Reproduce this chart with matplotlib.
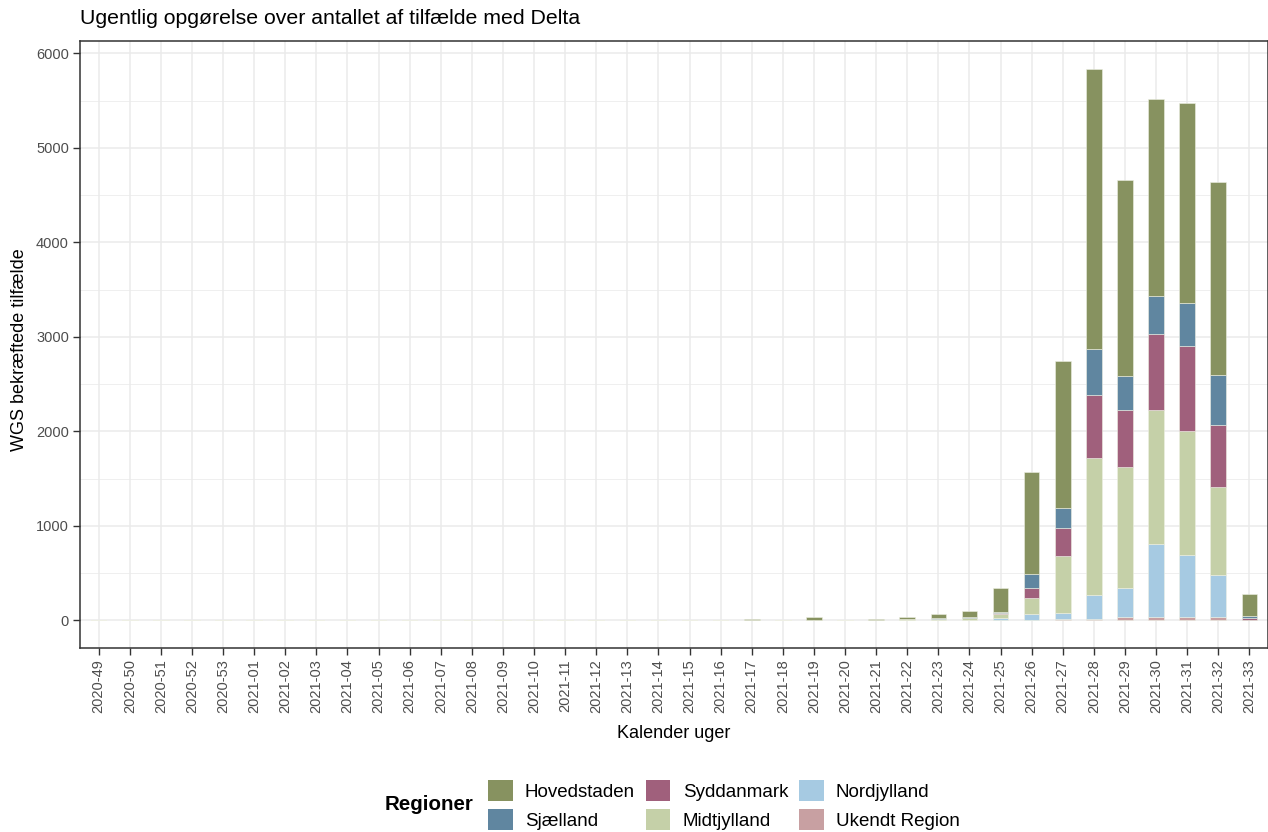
import numpy as np
import matplotlib
matplotlib.use("Agg")
import matplotlib.pyplot as plt
from matplotlib.patches import Patch
from matplotlib.ticker import MultipleLocator

plt.rcParams['font.family'] = ['Liberation Sans', 'DejaVu Sans']

weeks = ["2020-%02d" % w for w in range(49, 54)] + ["2021-%02d" % w for w in range(1, 34)]

# weeks 2020-49 .. 2021-16 have no cases, values below start at 2021-17
hovedstaden = [0] * 21 + [18, 0, 30, 0, 18, 20, 45, 60, 255, 1079, 1550, 2962, 2070, 2086, 2125, 2035, 232]
sjaelland = [0] * 21 + [0, 0, 0, 0, 0, 0, 6, 11, 10, 142, 219, 496, 366, 406, 456, 535, 22]
syddanmark = [0] * 21 + [0, 0, 0, 0, 0, 0, 3, 5, 20, 109, 294, 661, 597, 801, 892, 659, 20]
midtjylland = [0] * 21 + [0, 0, 5, 0, 2, 15, 8, 18, 40, 173, 598, 1451, 1282, 1416, 1310, 930, 3]
nordjylland = [0] * 21 + [0, 0, 0, 0, 0, 0, 5, 5, 20, 64, 66, 250, 311, 775, 662, 443, 3]
ukendt = [0] * 21 + [0, 0, 0, 0, 0, 0, 0, 0, 3, 2, 15, 18, 35, 35, 35, 35, 3]

regions = ["Hovedstaden", "Sjælland", "Syddanmark", "Midtjylland", "Nordjylland", "Ukendt Region"]
colors = ["#879260", "#6086A0", "#A0607C", "#C5D0A8", "#A6CAE2", "#C8A0A2"]
values = [hovedstaden, sjaelland, syddanmark, midtjylland, nordjylland, ukendt]

fig = plt.figure(figsize=(12.68, 8.32), dpi=100)
ax = fig.add_axes([80 / 1268, 184 / 832, 1188 / 1268, 607 / 832])

x = np.arange(len(weeks))
bottom = np.zeros(len(weeks))
# stack from bottom: Ukendt first, Hovedstaden on top
for name, col, vals in list(zip(regions, colors, values))[::-1]:
    v = np.array(vals, dtype=float)
    ax.bar(x, v, width=0.5, bottom=bottom, color=col, edgecolor='#EEF0E4', linewidth=0.4, zorder=3)
    bottom += v

ax.set_xlim(-0.6, len(weeks) - 0.4)
ax.set_ylim(-292, 6131)
ax.set_xticks(x)
ax.set_xticklabels(weeks, rotation=90)
ax.yaxis.set_major_locator(MultipleLocator(1000))
ax.yaxis.set_minor_locator(MultipleLocator(500))
ax.grid(which='major', color='#EBEBEB', linewidth=1.1, zorder=0)
ax.grid(which='minor', axis='y', color='#EBEBEB', linewidth=0.55, zorder=0)
ax.set_axisbelow(True)
ax.tick_params(axis='both', which='major', labelsize=10.5, labelcolor='#4D4D4D',
               color='#333333', length=5, width=1, pad=3)
ax.tick_params(axis='y', which='minor', length=0)
for s in ax.spines.values():
    s.set_color('#333333')
    s.set_linewidth(1.1)

fig.text(80 / 1268, 1 - 18 / 832, "Ugentlig opgørelse over antallet af tilfælde med Delta",
         fontsize=15.3, va='center', ha='left', color='black')
fig.text(20 / 1268, 1 - 350 / 832, "WGS bekræftede tilfælde", rotation=90,
         fontsize=13, va='center', ha='center')
fig.text(674 / 1268, 1 - 733 / 832, "Kalender uger", fontsize=13, va='center', ha='center')

handles = [Patch(facecolor=c, edgecolor='none') for c in colors]
fig.text(385 / 1268, 1 - 805 / 832, "Regioner", fontsize=14.8, fontweight='bold', va='center', ha='left')
fig.legend(handles, regions, ncol=3, loc='center', bbox_to_anchor=(724 / 1268, 27 / 832),
           frameon=False, fontsize=13.5, handlelength=1.3, handleheight=1.35,
           labelspacing=0.4, columnspacing=0.6, handletextpad=0.65, borderpad=0)

fig.savefig("out.png", dpi=100)
